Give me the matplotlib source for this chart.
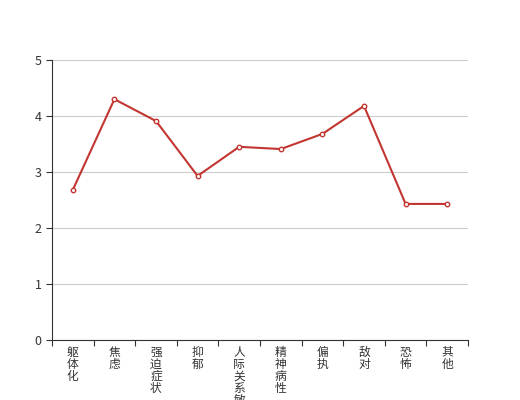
import matplotlib
matplotlib.use('Agg')
from matplotlib import pyplot as plt
import numpy as np

plt.rcParams['font.family'] = ['Noto Sans CJK SC', 'DejaVu Sans']

categories = ['躯体化', '焦虑', '强迫症状', '抑郁', '人际关系敏感', '精神病性', '偏执', '敌对', '恐怖', '其他']
scores = [2.68, 4.30, 3.91, 2.93, 3.45, 3.41, 3.68, 4.18, 2.43, 2.43]
y_ticks = [0, 1, 2, 3, 4, 5]

fig = plt.figure(figsize=(5.2, 4), dpi=100)
ax = fig.add_axes([0.1, 0.15, 0.8, 0.7])

x = np.arange(len(categories))
ax.plot(x, scores, color='#c23531', linewidth=1.5, marker='o', markersize=3.2,
        markerfacecolor='white', markeredgecolor='#c23531', markeredgewidth=1, zorder=3)

ax.set_xlim(-0.5, len(categories) - 0.5)
ax.set_ylim(0, 5)
ax.set_yticks(y_ticks)
ax.yaxis.grid(color='#cccccc', linewidth=0.8)
ax.set_axisbelow(True)

# category labels, one character per line
ax.set_xticks(x, ['\n'.join(c) for c in categories])
ax.set_xticks(np.arange(len(categories) + 1) - 0.5, minor=True)
ax.tick_params(axis='x', which='major', length=0, pad=4, labelsize=8.5, colors='#333333')
ax.tick_params(axis='x', which='minor', length=4, width=0.8, color='#333333')
ax.tick_params(axis='y', length=4, width=0.8, color='#333333', labelsize=9, labelcolor='#333333')
for lbl in ax.get_xticklabels():
    lbl.set_verticalalignment('top')
    lbl.set_linespacing(0.9)

for s in ['top', 'right']:
    ax.spines[s].set_visible(False)
for s in ['left', 'bottom']:
    ax.spines[s].set_color('#333333')
    ax.spines[s].set_linewidth(0.8)

plt.savefig('out.png', dpi=100)
